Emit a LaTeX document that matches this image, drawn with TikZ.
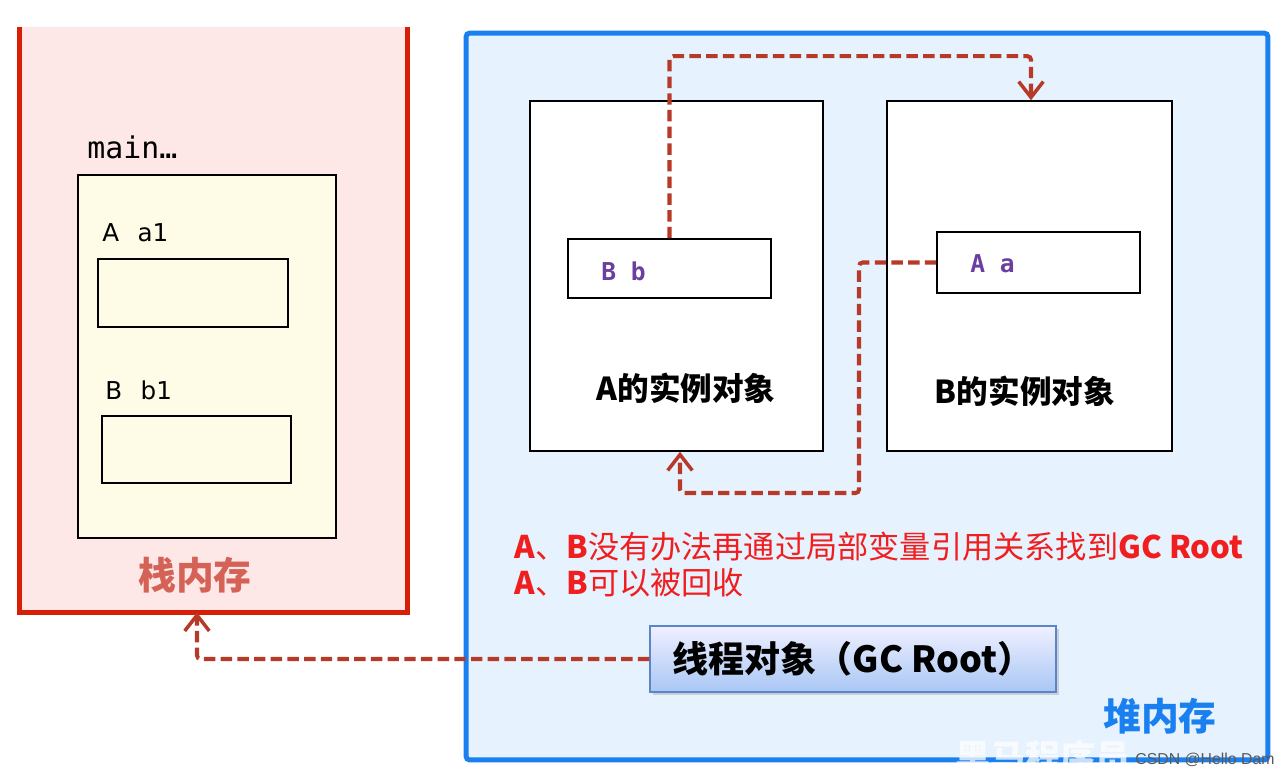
\documentclass[tikz,border=0pt]{standalone}
\usepackage{fontspec}
\setmainfont{Noto Sans CJK SC}
\setmonofont{DejaVu Sans Mono}
\newfontfamily\plainsans{DejaVu Sans}
\newfontfamily\markfont{Liberation Sans}
\usetikzlibrary{arrows.meta, positioning, shadows}

\definecolor{stackfill}{RGB}{253,231,231}
\definecolor{stackred}{RGB}{216,30,6}
\definecolor{stacktext}{RGB}{212,98,86}
\definecolor{framefill}{RGB}{254,252,230}
\definecolor{heapfill}{RGB}{230,242,254}
\definecolor{heapblue}{RGB}{26,128,240}
\definecolor{refred}{RGB}{183,58,40}
\definecolor{noteRed}{RGB}{240,30,30}
\definecolor{fieldpurple}{RGB}{107,63,160}
\definecolor{rootedge}{RGB}{90,133,200}

\begin{document}
\begin{tikzpicture}[
    x=0.02cm, y=-0.02cm,
    box/.style={draw=black, line width=0.9pt, inner sep=0pt},
    refline/.style={draw=refred, line width=2.3pt, dash pattern=on 6.5pt off 3pt,
        rounded corners=2pt, -{Straight Barb[length=9pt, width=14pt, line width=2pt]}},
    varname/.style={anchor=west, inner sep=0pt, font=\plainsans\fontsize{14}{16}\selectfont},
    fieldname/.style={anchor=west, inner sep=0pt, text=fieldpurple,
        font=\ttfamily\bfseries\fontsize{14}{16}\selectfont},
    objtitle/.style={inner sep=0pt, font=\bfseries\fontsize{18}{20}\selectfont},
    note/.style={anchor=west, inner sep=0pt, text=noteRed, font=\fontsize{17.75}{22}\selectfont}
  ]

  \useasboundingbox (0,0) rectangle (1280,775);

  % ==================== STACK ====================

  \node (stack) [fill=stackfill, minimum width=7.74cm, minimum height=11.7cm, inner sep=0pt]
    at (213.5,319.5) {};
  \draw [stackred, line width=2.8pt]
    (stack.north west) -- (stack.south west) -- (stack.south east) -- (stack.north east);

  \node (mainlbl) [anchor=west, inner sep=0pt, font=\ttfamily\fontsize{17}{19}\selectfont]
    at (87,147) {main…};
  \node (frame) [box, fill=framefill, minimum width=5.16cm, minimum height=7.26cm] at (207,356.5) {};

  \node (a1lbl) [varname] at (102,233) {A\hspace{0.75em}a1};
  \node (a1) [box, fill=framefill, minimum width=3.8cm, minimum height=1.36cm] at (193,293) {};

  \node (b1lbl) [varname] at (105,390) {B\hspace{0.75em}b1};
  \node (b1) [box, fill=framefill, minimum width=3.78cm, minimum height=1.34cm] at (196.5,449.5) {};

  \node (stacklbl) [text=stacktext, font=\bfseries\fontsize{21.5}{24}\selectfont] at (195,575) {栈内存};

  % ==================== HEAP ====================

  \node (heap) [draw=heapblue, fill=heapfill, line width=2.8pt, rounded corners=2pt,
    minimum width=16.04cm, minimum height=14.54cm, inner sep=0pt] at (867,396.5) {};

  \node (objA) [box, fill=white, minimum width=5.86cm, minimum height=7cm] at (676.5,276) {};
  \node (objB) [box, fill=white, minimum width=5.7cm, minimum height=7cm] at (1029.5,276) {};

  \node (refB) [box, fill=white, minimum width=4.06cm, minimum height=1.18cm] at (669.5,268.5) {};
  \node (refBlbl) [fieldname] at (601,271) {B b};
  \node (refA) [box, fill=white, minimum width=4.06cm, minimum height=1.22cm] at (1038.5,262.5) {};
  \node (refAlbl) [fieldname] at (970,264) {A a};

  \node (objAlbl) [objtitle] at (686,388) {A的实例对象};
  \node (objBlbl) [objtitle] at (1025,391) {B的实例对象};

  \node (note1) [note] at (514,547) {\textbf{A}、\textbf{B}没有办法再通过局部变量引用关系找到\textbf{GC Root}};
  \node (note2) [note] at (514,583) {\textbf{A}、\textbf{B}可以被回收};

  \node (gcroot) [draw=rootedge, line width=0.8pt, top color=blue!6, bottom color={rgb,255:red,169;green,199;blue,245},
    drop shadow={opacity=0.3, shadow xshift=1.5pt, shadow yshift=-1.5pt},
    minimum width=8.12cm, minimum height=1.32cm, inner sep=0pt,
    font=\bfseries\fontsize{20.5}{22}\selectfont] at (853,659) {线程对象（GC Root）};

  \node (heaplbl) [text=heapblue, font=\bfseries\fontsize{21.5}{24}\selectfont] at (1160,716) {堆内存};

  % ==================== REFERENCES ====================

  \coordinate (turn) at (859,493);

  \draw [refline] (refB.north) -- ++(0,-182) -| ([xshift=0.03cm]objB.north);
  \draw [refline] (refA.west) -| (turn) -| ([xshift=0.07cm]objA.south);
  \draw [refline] (gcroot.west) -| ([xshift=-0.33cm]stack.south);

  % ==================== WATERMARK ====================

  \node (wm) [text=white, opacity=0.75, font=\bfseries\fontsize{20}{22}\selectfont] at (1043,757) {黑马程序员};
  \node (csdn) [text=gray!70!black, inner sep=0pt, font=\markfont\fontsize{9}{10}\selectfont] at (1205,760) {CSDN @Hello Dam};

\end{tikzpicture}
\end{document}
